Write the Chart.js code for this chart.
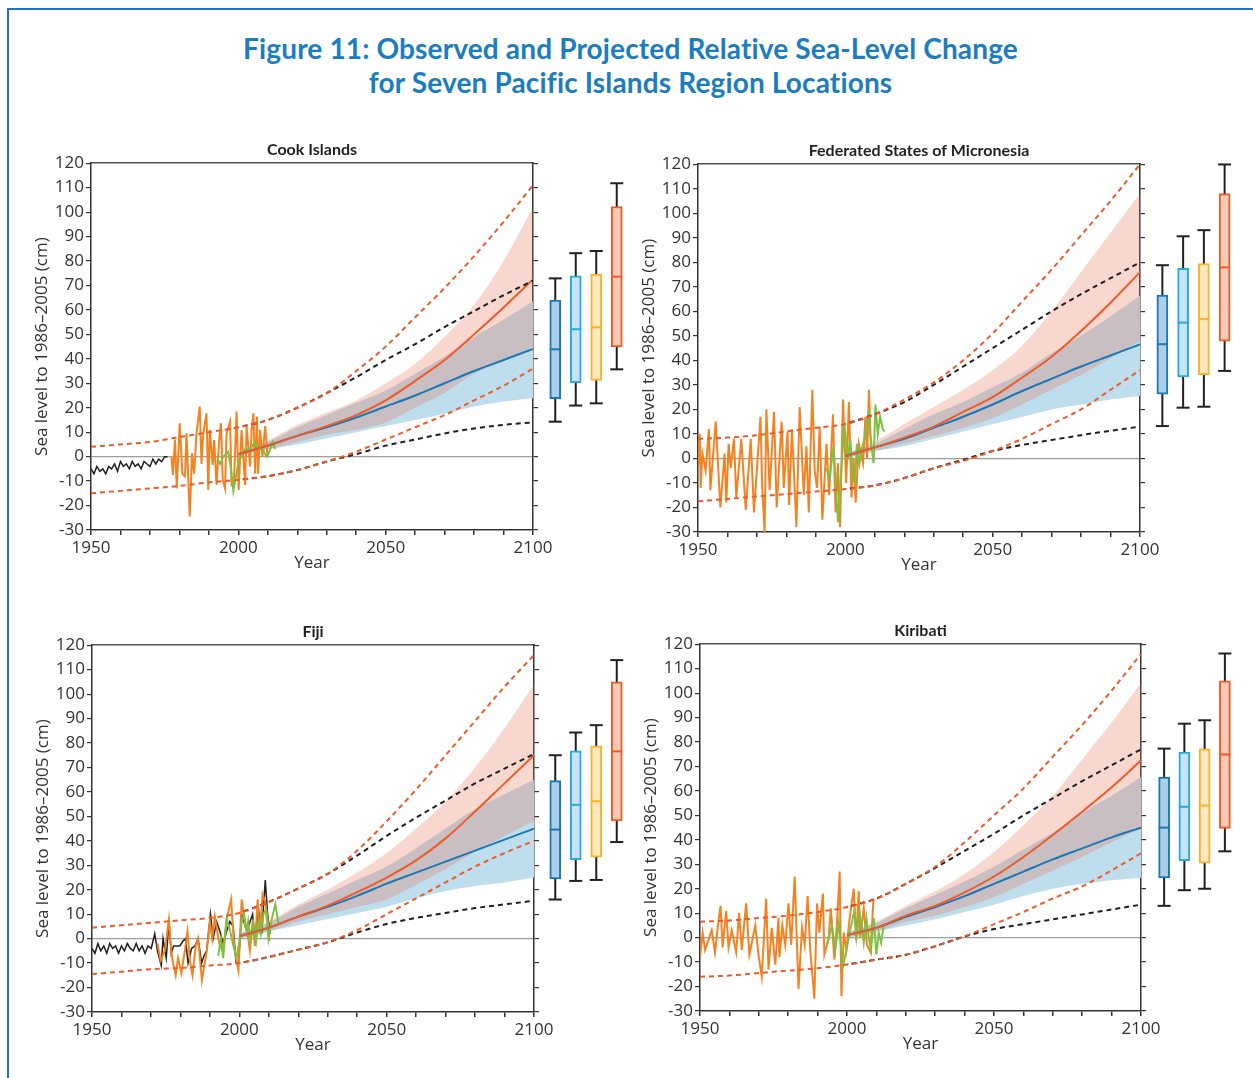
<!DOCTYPE html>
<html>
<head>
<meta charset="utf-8">
<script src="https://cdn.jsdelivr.net/npm/chart.js@4.4.1/dist/chart.umd.min.js"></script>
<style>
  body { margin: 0; width: 1253px; height: 1078px; background: #fff; position: relative; overflow: hidden; }
  #frame { position: absolute; left: 7px; top: 8px; width: 1260px; height: 1090px;
           border-top: 2px solid #1c75bc; border-left: 2px solid #1c75bc; }
  h1 { position: absolute; left: 8px; top: 31px; width: 1245px; margin: 0; text-align: center;
       font: bold 28px Lato, sans-serif; letter-spacing: 0.15px; line-height: 34px; color: #1a7dc0; }
  canvas { position: absolute; }
</style>
</head>
<body>
<div id="frame"></div>
<h1>Figure 11: Observed and Projected Relative Sea-Level Change<br>for Seven Pacific Islands Region Locations</h1>

<script>
// shared x positions (years)
const envYears = [1950, 1960, 1970, 1980, 1990, 2000, 2010, 2020, 2030, 2040, 2050, 2060, 2070, 2080, 2090, 2100];
const dashYears = [2000, 2010, 2020, 2030, 2040, 2050, 2060, 2070, 2080, 2090, 2100];
const projYears = [2000, 2010, 2020, 2030, 2040, 2050, 2060, 2070, 2080, 2090, 2100];
const scenarios = ['RCP2.6', 'RCP4.5', 'RCP6.0', 'RCP8.5'];

// ---------- Cook Islands ----------
const cookRedUp = [4, 5, 6, 8, 10, 12, 15, 20, 26, 35, 45, 57, 69, 82, 96, 111];
const cookRedLo = [-15, -14, -13, -12, -10.5, -9.5, -8, -5.5, -2, 2, 7, 12, 17, 23, 29, 36];
const cookBlackUp = [12, 15, 20, 26, 32.5, 39.5, 46, 53, 59.5, 66, 72];
const cookBlackLo = [-9.5, -8, -5.5, -2, 1, 4.5, 7, 9.5, 11.5, 13, 14];
const cookRcp26 = [1, 4.5, 8.5, 12, 16, 20.5, 25, 30, 35, 39.5, 44];
const cookRcp85 = [1, 4.5, 8.5, 12.5, 17, 23, 31, 39.5, 50, 61, 72.5];
const cookRcp26Lo = [0.5, 3, 5, 7.5, 10, 12.5, 15, 17.5, 20.5, 22.5, 24];
const cookRcp26Hi = [1.5, 6, 12, 17, 22, 27, 34, 41, 49, 56, 63.5];
const cookRcp85Lo = [0.5, 3, 6, 9, 11, 14, 20, 26, 34, 39, 45];
const cookRcp85Hi = [1.5, 6.5, 13, 18, 23, 30, 38, 49, 62, 80, 102];
const cookBlack = [[1950,-5],[1951,-7],[1952,-4],[1953,-6],[1954,-5],[1955,-7],[1956,-4],[1957,-5],[1958,-3],[1959,-6],[1960,-2],[1961,-4],[1962,-3],[1963,-5],[1964,-2],[1965,-4],[1966,-3],[1967,-5],[1968,-2],[1969,-3],[1970,-4],[1971,-1],[1972,-3],[1973,-1],[1974,-2],[1975,0],[1976,0]];
const cookOrange = [[1977.3,0],[1977.8,-7.5],[1978.5,7],[1979.1,-13],[1980.1,13.6],[1981,-7],[1981.9,-8],[1982.4,9.5],[1983.5,-24.5],[1984.3,1.4],[1985,-7],[1985.8,9.5],[1986.9,20.5],[1987.5,-3],[1988.1,9.5],[1989.2,17.7],[1989.8,-13.6],[1990.3,10.9],[1991.3,-3.4],[1991.8,6.8],[1992.6,-11.6],[1993.5,6.8],[1994.1,13.6],[1994.7,-9.5],[1995.5,-13],[1996,9.5],[1997.2,14.3],[1997.7,-11.6],[1998.5,-11],[1999.4,18.4],[2000.1,-13.6],[2001.1,10.9],[2002.3,-11.6],[2002.8,12.3],[2004,-4],[2004.5,10.9],[2005.1,17.7],[2005.7,-7],[2006.3,16.4],[2006.7,-7],[2007.4,10.9],[2008.2,0],[2009.1,12.5],[2009.9,0]];
const cookGreen = [[1993,-1],[1993.8,-3],[1994.9,0],[1996.6,2],[1997.5,-5],[1998.3,-14],[1999.2,-8],[2000,-2],[2001.1,0],[2002.3,3],[2003.4,3],[2004.5,4],[2005.7,6],[2006.8,3],[2008,4],[2009.1,1],[2009.7,0],[2010.8,3],[2011.7,6],[2012.5,3]];
const cookWhiskLo = [14.3, 20.9, 21.8, 35.7];
const cookQ1 = [23.7, 30.3, 31.2, 44.9];
const cookMed = [43.9, 52.1, 52.9, 73.6];
const cookQ3 = [64, 73.9, 74.7, 102.3];
const cookWhiskHi = [72.9, 83.2, 84.1, 111.8];

// ---------- Federated States of Micronesia ----------
const fsmRedUp = [8, 8.5, 9.5, 11, 12.5, 14, 18, 24, 31, 40, 51, 64, 77, 91, 105, 120];
const fsmRedLo = [-17.5, -16.5, -15.5, -14.5, -13.5, -12.5, -11, -8, -4, -1, 3, 8, 14, 20, 28, 36];
const fsmBlackUp = [14, 18, 23, 30, 37.5, 45, 52.5, 60, 67, 73.5, 80];
const fsmBlackLo = [-12.5, -11, -8, -4, -0.5, 3, 5.5, 7.5, 9.5, 11.3, 13];
const fsmRcp26 = [1, 4.5, 8, 12.5, 17, 22, 27.5, 32.5, 37.5, 42, 46.5];
const fsmRcp85 = [1, 4.5, 8.5, 13, 19, 25, 33, 41.5, 52, 63.5, 76];
const fsmRcp26Lo = [0, 3, 5, 8, 11, 14, 17, 20, 22, 24, 25.5];
const fsmRcp26Hi = [2, 6, 12, 18, 23, 29, 35, 43, 50, 58, 66.5];
const fsmRcp85Lo = [0, 3, 6, 9, 12.5, 16.5, 22, 28, 34, 41, 48];
const fsmRcp85Hi = [2, 7, 14, 21, 28, 36, 46, 60, 76, 92, 108];
const fsmOrange = [[1950,-3],[1950.6,10],[1950.9,-12],[1951.5,2],[1952.6,-5],[1953.7,12],[1954.2,-13],[1956,15],[1957.6,-20],[1959,2],[1959.6,-18],[1960.4,6],[1961.1,-4],[1962.2,8],[1963,-16],[1964.7,8],[1966.2,-21],[1967.9,8],[1969,-22],[1971.2,17],[1971.8,-12],[1972.6,-30],[1973.2,20],[1974.3,-13],[1975.8,19],[1976.7,-20],[1978.4,15],[1979.1,-12],[1980.4,11],[1980.9,-19],[1981.9,12],[1983.4,-28],[1984.5,21],[1985.9,-15],[1986.8,5],[1987.6,-22],[1988.8,28],[1989.6,-5],[1990.4,-12],[1991.3,13],[1992.2,-25],[1993.6,6],[1994.5,-15],[1995.8,18],[1996.7,-22],[1997.5,-2],[1998.2,-28],[1999.2,24],[2000.3,-10],[2001.2,23],[2002.1,-16],[2002.8,0],[2003.5,-18],[2004.6,6],[2006,-2],[2006.8,17],[2007.4,0],[2008,28],[2008.7,5]];
const fsmGreen = [[1993.6,-4],[1994.7,-8],[1996,5],[1997.5,-26],[1998.6,-5],[1999.7,14],[2000.8,0],[2001.7,8],[2002.5,-8],[2003.3,-10],[2003.9,6],[2004.8,-2],[2005.6,4],[2006.5,8],[2008,20],[2008.4,10],[2009.6,-2],[2010.2,22],[2011,10],[2011.8,17],[2012.7,12],[2013.3,11]];
const fsmWhiskLo = [13.2, 20.7, 21.1, 35.7];
const fsmQ1 = [26.2, 33.2, 34.2, 47.8];
const fsmMed = [46.6, 55.4, 56.8, 77.9];
const fsmQ3 = [66.6, 77.5, 79.5, 108];
const fsmWhiskHi = [78.8, 90.6, 93.1, 119.9];

// ---------- Fiji ----------
const fijiRedUp = [4.5, 5.5, 6.5, 7.5, 8.5, 10.5, 15, 20.5, 26.5, 36, 48, 61, 75, 89, 103, 116];
const fijiRedLo = [-14.5, -13.5, -12.5, -12, -11, -10, -7.5, -4.5, -1.5, 3.5, 10, 16.5, 23, 29.5, 35, 40];
const fijiBlackUp = [10.5, 15, 20.5, 26.5, 34, 42, 49.5, 56.5, 63.5, 69.5, 75.5];
const fijiBlackLo = [-10, -7.5, -4.5, -1.5, 2.5, 6, 8.5, 10.5, 12.5, 14, 15.5];
const fijiRcp26 = [1, 4.5, 9, 13, 17.5, 22.5, 27, 31.5, 36, 40.5, 45];
const fijiRcp85 = [1, 4.5, 9, 13.5, 19, 25, 32, 41, 52, 63.5, 75];
const fijiRcp26Lo = [0, 3, 5.5, 8, 10.5, 13, 16.5, 19.5, 21.5, 23, 25];
const fijiRcp26Hi = [2, 6.5, 13, 18.5, 24, 29.5, 37, 45, 53, 59, 65];
const fijiRcp85Lo = [0, 3, 7, 10, 13, 16, 22, 28.5, 35.5, 42, 48];
const fijiRcp85Hi = [2, 7, 14, 20, 27, 35, 45, 56, 70, 86, 104];
const fijiBlack = [[1950,-4],[1951,-6],[1952,-2],[1953,-5],[1954,-3],[1955,-6],[1956,-2],[1957,-4],[1958,-3],[1959,-6],[1960,-3],[1961,-5],[1962,-2],[1963,-4],[1964,-5],[1965,-2],[1966,-5],[1967,-3],[1968,-6],[1969,-3],[1970.1,-4],[1971.3,2],[1972.2,-5],[1973.5,-11],[1974.1,0],[1975.2,-8],[1976.1,7],[1976.9,-6],[1977.7,-3],[1978.6,-3],[1979.8,-3],[1980.9,-1],[1981.7,0],[1982.6,-10],[1983.8,-4],[1984.9,-3],[1986,0],[1987.2,-10],[1988,-7],[1988.9,-5],[1990.2,10],[1991.1,0],[1992.3,7],[1993.4,3],[1994.5,-2],[1995.7,3],[1996.8,7],[1997.9,5],[1998.9,-10],[1999.7,-10],[2000.8,10],[2002.5,3],[2004.5,10],[2005.3,0],[2006.5,12],[2007.6,2],[2008.8,24],[2009.6,10],[2010.4,2]];
const fijiOrange = [[1972.2,-2],[1973.3,-9],[1974.7,-5],[1976.1,8],[1976.9,-5],[1977.5,-10],[1978.4,-15],[1979.2,-8],[1980.3,-14],[1981.5,-5],[1982.4,3],[1983.2,-9],[1984.1,-15],[1985.2,-3],[1986,0],[1987.3,-17],[1988.1,-11],[1989,-5],[1990,7],[1990.8,0],[1991.7,9],[1992.5,3],[1993.4,-3],[1994.5,-5],[1995.7,8],[1997.2,16],[1998.2,-2],[1998.9,-8],[1999.7,-13],[2000.8,16],[2002,5],[2002.7,3],[2003.6,-5],[2004.5,7],[2005.3,-3],[2006.2,16],[2007,2],[2007.9,18],[2008.8,15],[2009.6,8],[2010.2,-1]];
const fijiGreen = [[1992.8,-7],[1993.8,0],[1994.5,-8],[1995.7,8],[1996.9,3],[1998,-3],[1999.1,-8],[2000,-1],[2000.8,7],[2001.6,10],[2002.5,3],[2003,7],[2003.8,-1],[2004.8,6],[2005.7,-1],[2006.5,7],[2007.3,2],[2008.2,10],[2009,12],[2009.9,0],[2011,8],[2012.2,14],[2013.3,6]];
const fijiWhiskLo = [16, 23.6, 24, 39.5];
const fijiQ1 = [24.4, 32.3, 33.3, 48.1];
const fijiMed = [44.6, 54.7, 56.2, 76.6];
const fijiQ3 = [64.6, 76.8, 78.8, 105];
const fijiWhiskHi = [75, 84.3, 87.3, 113.9];

// ---------- Kiribati ----------
const kirRedUp = [6.5, 7, 8, 9, 10.5, 12.5, 16, 22, 29, 39, 50, 61, 74, 87, 101, 116];
const kirRedLo = [-16, -15.5, -14.5, -13.5, -12.5, -11, -9, -7, -3.5, 0.5, 5.5, 10.5, 16, 21, 27.5, 34.5];
const kirBlackUp = [12.5, 16, 22, 28.5, 35.5, 42.5, 50, 57, 64, 70.5, 77];
const kirBlackLo = [-11, -9, -7, -3.5, 0.5, 3.5, 5.5, 7.5, 9.5, 11.5, 13.5];
const kirRcp26 = [1, 4, 8.5, 12.5, 17, 22, 27, 32, 36.5, 41, 45];
const kirRcp85 = [1, 4, 9, 13, 18.5, 25, 33, 42, 51.5, 61.5, 72.5];
const kirRcp26Lo = [0, 2.5, 5, 7.5, 10.5, 13.5, 17, 20, 22, 23.5, 24.5];
const kirRcp26Hi = [2, 6, 12, 17.5, 23, 29, 36, 43, 51, 58, 65.7];
const kirRcp85Lo = [0, 2.5, 6.5, 9, 12.5, 16.5, 22, 27.5, 33, 39, 44.7];
const kirRcp85Hi = [2, 6.5, 13, 19, 26, 35, 46, 58, 73, 88, 104];
const kirOrange = [[1950,-8],[1950.9,2],[1951.7,-5],[1954,3],[1955.1,-6],[1956.3,7],[1957,13],[1957.7,-4],[1958.9,11],[1959.7,-4],[1960.8,3],[1962.3,-6],[1963.3,10],[1964.2,-5],[1965.7,14],[1966.8,-7],[1968.8,5],[1969.9,-7],[1971,-16],[1972.5,16],[1973.3,-13],[1974.4,4],[1975.6,-11],[1976.7,8],[1977,-8],[1978,5],[1979,-3],[1980.1,14],[1981,-3],[1982.2,25],[1983.5,-21],[1984.7,4],[1985.6,-3],[1986.6,17],[1987.5,-5],[1988.9,-25],[1989.8,14],[1990.6,2],[1991.8,18],[1992.3,-7],[1993.8,0],[1994.5,12],[1995.7,-9],[1996.6,6],[1997.5,27],[1998.1,-24],[1998.9,2],[1999.8,-5],[2000.9,8],[2002.3,20],[2003.1,-1],[2004,19],[2004.5,0],[2005.7,12],[2006.8,-3],[2008,-6],[2009,16]];
const kirGreen = [[1993.2,-3],[1994.9,5],[1996,-5],[1997.2,6],[1998.6,-12],[1999.8,-5],[2001.1,3],[2002.5,11],[2003.2,0],[2004.3,10],[2005.1,4],[2005.7,-2],[2006.6,8],[2007.4,0],[2008.2,-5],[2009.1,8],[2010,-7],[2010.8,2],[2011.6,-2],[2012.5,5]];
const kirWhiskLo = [13, 19.4, 20, 35.3];
const kirQ1 = [24.4, 31.5, 30.5, 44.7];
const kirMed = [45, 53.5, 54, 74.9];
const kirQ3 = [65.7, 75.9, 77.2, 105];
const kirWhiskHi = [77.3, 87.5, 88.9, 116.2];

// colours
const RED = '#ee5a2a';
const INK = '#231f20';
const ORANGE = '#f58220';
const GREEN = '#7dc142';
const BLUE = '#1a78b4';
const PINK = 'rgba(230, 110, 80, 0.28)';   // laid over the blue range, gives the mauve-grey overlap
const SKY = '#bedded';
const boxFill = ['#abcfe6', '#c7e3f5', '#fee8c2', '#f9cbb5'];
const boxStroke = ['#1a78b4', '#27a9e1', '#fbb326', '#ef5a2a'];

const TICK_FONT = { family: 'Open Sans', size: 17 };
const AXIS_COLOR = '#333';

function pts(xs, ys) { return ys.map((y, i) => ({ x: xs[i], y: y })); }
function pairs(list) { return list.map(p => ({ x: p[0], y: p[1] })); }

function dashed(data, color, offset) {
  return { data: data, borderColor: color, borderWidth: 2, borderDash: [5, 4], borderDashOffset: offset,
           pointRadius: 0, cubicInterpolationMode: 'monotone', fill: false };
}
function solid(data, color, width) {
  return { data: data, borderColor: color, borderWidth: width, pointRadius: 0, tension: 0, fill: false };
}
function smooth(data, color) {
  return { data: data, borderColor: color, borderWidth: 2, pointRadius: 0, cubicInterpolationMode: 'monotone', fill: false };
}
function bandEdge(data) {
  return { data: data, borderWidth: 0, borderColor: 'rgba(0,0,0,0)', pointRadius: 0, cubicInterpolationMode: 'monotone', fill: false };
}
function bandTop(data, color) {
  return { data: data, borderWidth: 0, borderColor: 'rgba(0,0,0,0)', backgroundColor: color, pointRadius: 0,
           cubicInterpolationMode: 'monotone', fill: '-1' };
}

const whiskers = {
  id: 'whiskers',
  beforeDatasetsDraw(chart) {
    const b = chart.config.options.boxStats;
    const xs = chart.scales.x, ys = chart.scales.y, ctx = chart.ctx;
    ctx.save();
    ctx.strokeStyle = INK;
    ctx.lineWidth = 2;
    b.lo.forEach((lo, i) => {
      const x = xs.getPixelForValue(i);
      ctx.beginPath();
      ctx.moveTo(x, ys.getPixelForValue(lo));
      ctx.lineTo(x, ys.getPixelForValue(b.hi[i]));
      ctx.stroke();
      [lo, b.hi[i]].forEach(v => {
        const y = ys.getPixelForValue(v);
        ctx.beginPath();
        ctx.moveTo(x - 6.5, y);
        ctx.lineTo(x + 6.5, y);
        ctx.stroke();
      });
    });
    ctx.restore();
  },
  afterDatasetsDraw(chart) {
    const b = chart.config.options.boxStats;
    const xs = chart.scales.x, ys = chart.scales.y, ctx = chart.ctx;
    ctx.save();
    ctx.lineWidth = 2;
    b.med.forEach((m, i) => {
      const x = xs.getPixelForValue(i);
      const y = ys.getPixelForValue(m);
      ctx.strokeStyle = boxStroke[i];
      ctx.beginPath();
      ctx.moveTo(x - 5.5, y);
      ctx.lineTo(x + 5.5, y);
      ctx.stroke();
    });
    ctx.restore();
  }
};

function addCanvas(left, top, w, h) {
  const c = document.createElement('canvas');
  c.width = w; c.height = h;
  c.style.left = left + 'px';
  c.style.top = top + 'px';
  c.style.width = w + 'px';
  c.style.height = h + 'px';
  document.body.appendChild(c);
  return c;
}

function drawPanel(p) {
  const datasets = [
    dashed(pts(envYears, p.redUp), RED, 0),
    dashed(pts(envYears, p.redLo), RED, 0),
    dashed(pts(dashYears, p.blackUp), INK, 4.5),
    dashed(pts(dashYears, p.blackLo), INK, 4.5),
    smooth(pts(projYears, p.rcp85), RED),
    smooth(pts(projYears, p.rcp26), BLUE),
    solid(pairs(p.green), GREEN, 2),
    solid(pairs(p.orange), ORANGE, 2),
    solid(pairs(p.black || []), INK, 1.5),
    bandEdge(pts(projYears, p.rcp85Lo)),
    bandTop(pts(projYears, p.rcp85Hi), PINK),
    bandEdge(pts(projYears, p.rcp26Lo)),
    bandTop(pts(projYears, p.rcp26Hi), SKY)
  ];

  const canvas = addCanvas(p.left, p.top, p.w, p.h);
  const chart = new Chart(canvas, {
    type: 'line',
    data: { datasets: datasets },
    options: {
      responsive: false,
      animation: false,
      devicePixelRatio: 1,
      layout: { padding: 0 },
      plugins: {
        legend: { display: false },
        tooltip: { enabled: false },
        filler: { drawTime: 'beforeDatasetsDraw' },
        title: { display: true, text: p.name, fullSize: false, color: INK,
                 font: { family: 'Lato', weight: 'bold', size: 16 }, padding: { top: 0, bottom: 4 } }
      },
      scales: {
        x: {
          type: 'linear', position: 'bottom', min: 1950, max: 2100,
          afterFit: s => { s.height = 44; s.paddingLeft = 0; s.paddingRight = 0; },
          ticks: { stepSize: 10, autoSkip: false, maxRotation: 0, padding: 3, color: AXIS_COLOR, font: TICK_FONT,
                   callback: v => (v % 50 === 0 ? String(v) : '') },
          grid: { drawOnChartArea: false, drawTicks: true, tickLength: 5, tickColor: AXIS_COLOR, lineWidth: 1.5 },
          border: { color: AXIS_COLOR, width: 1.5 },
          title: { display: true, text: 'Year', color: AXIS_COLOR, font: TICK_FONT, padding: { top: 0, bottom: 1 } }
        },
        xTop: {
          type: 'linear', position: 'top', min: 1950, max: 2100,
          afterFit: s => { s.height = 0; },
          ticks: { display: false },
          grid: { display: false, drawTicks: false },
          border: { color: '#555', width: 1.5 }
        },
        y: {
          position: 'left', min: -30, max: 120,
          afterFit: s => { s.width = 61; },
          ticks: { stepSize: 10, padding: 2, color: AXIS_COLOR, font: TICK_FONT },
          grid: { drawTicks: true, tickLength: 5, tickColor: AXIS_COLOR, lineWidth: 1.2,
                  color: c => (c.tick && c.tick.value === 0 ? '#9d9d9d' : 'rgba(0,0,0,0)') },
          border: { color: AXIS_COLOR, width: 1.5 },
          title: { display: true, text: 'Sea level to 1986–2005 (cm)', color: AXIS_COLOR, font: TICK_FONT,
                   padding: { top: 2, bottom: 0 } }
        },
        y2: {
          position: 'right', min: -30, max: 120,
          afterFit: s => { s.width = 26; },
          ticks: { display: false, stepSize: 10 },
          grid: { drawOnChartArea: false, drawTicks: true, tickLength: 5, tickColor: AXIS_COLOR, lineWidth: 1.2 },
          border: { color: AXIS_COLOR, width: 1.5 }
        }
      }
    }
  });

  // box plots for 2081-2100, aligned to the main plot's vertical extent
  const area = chart.chartArea;
  const boxCanvas = addCanvas(p.boxLeft, p.top, p.boxW, p.h);
  new Chart(boxCanvas, {
    type: 'bar',
    data: {
      labels: scenarios,
      datasets: [{
        data: p.q1.map((v, i) => [v, p.q3[i]]),
        backgroundColor: boxFill,
        borderColor: boxStroke,
        borderWidth: 2,
        borderSkipped: false,
        barThickness: 11
      }]
    },
    options: {
      responsive: false,
      animation: false,
      devicePixelRatio: 1,
      boxStats: { lo: p.lo, med: p.med, hi: p.hi },
      layout: { padding: { top: area.top, bottom: p.h - area.bottom, left: 0, right: 0 } },
      plugins: { legend: { display: false }, tooltip: { enabled: false } },
      scales: {
        x: { display: false },
        y: { display: false, min: -30, max: 120 }
      }
    },
    plugins: [whiskers]
  });
}

const panels = [
  { name: 'Cook Islands', left: 30, top: 140, w: 529, h: 434, boxLeft: 545, boxW: 82,
    redUp: cookRedUp, redLo: cookRedLo, blackUp: cookBlackUp, blackLo: cookBlackLo,
    rcp26: cookRcp26, rcp85: cookRcp85, rcp26Lo: cookRcp26Lo, rcp26Hi: cookRcp26Hi, rcp85Lo: cookRcp85Lo, rcp85Hi: cookRcp85Hi,
    black: cookBlack, orange: cookOrange, green: cookGreen,
    lo: cookWhiskLo, q1: cookQ1, med: cookMed, q3: cookQ3, hi: cookWhiskHi },
  { name: 'Federated States of Micronesia', left: 637, top: 141, w: 529, h: 435, boxLeft: 1152, boxW: 83,
    redUp: fsmRedUp, redLo: fsmRedLo, blackUp: fsmBlackUp, blackLo: fsmBlackLo,
    rcp26: fsmRcp26, rcp85: fsmRcp85, rcp26Lo: fsmRcp26Lo, rcp26Hi: fsmRcp26Hi, rcp85Lo: fsmRcp85Lo, rcp85Hi: fsmRcp85Hi,
    orange: fsmOrange, green: fsmGreen,
    lo: fsmWhiskLo, q1: fsmQ1, med: fsmMed, q3: fsmQ3, hi: fsmWhiskHi },
  { name: 'Fiji', left: 31, top: 622, w: 529, h: 434, boxLeft: 545, boxW: 82,
    redUp: fijiRedUp, redLo: fijiRedLo, blackUp: fijiBlackUp, blackLo: fijiBlackLo,
    rcp26: fijiRcp26, rcp85: fijiRcp85, rcp26Lo: fijiRcp26Lo, rcp26Hi: fijiRcp26Hi, rcp85Lo: fijiRcp85Lo, rcp85Hi: fijiRcp85Hi,
    black: fijiBlack, orange: fijiOrange, green: fijiGreen,
    lo: fijiWhiskLo, q1: fijiQ1, med: fijiMed, q3: fijiQ3, hi: fijiWhiskHi },
  { name: 'Kiribati', left: 639, top: 621, w: 528, h: 434, boxLeft: 1154, boxW: 81,
    redUp: kirRedUp, redLo: kirRedLo, blackUp: kirBlackUp, blackLo: kirBlackLo,
    rcp26: kirRcp26, rcp85: kirRcp85, rcp26Lo: kirRcp26Lo, rcp26Hi: kirRcp26Hi, rcp85Lo: kirRcp85Lo, rcp85Hi: kirRcp85Hi,
    orange: kirOrange, green: kirGreen,
    lo: kirWhiskLo, q1: kirQ1, med: kirMed, q3: kirQ3, hi: kirWhiskHi }
];

panels.forEach(drawPanel);
</script>
</body>
</html>
